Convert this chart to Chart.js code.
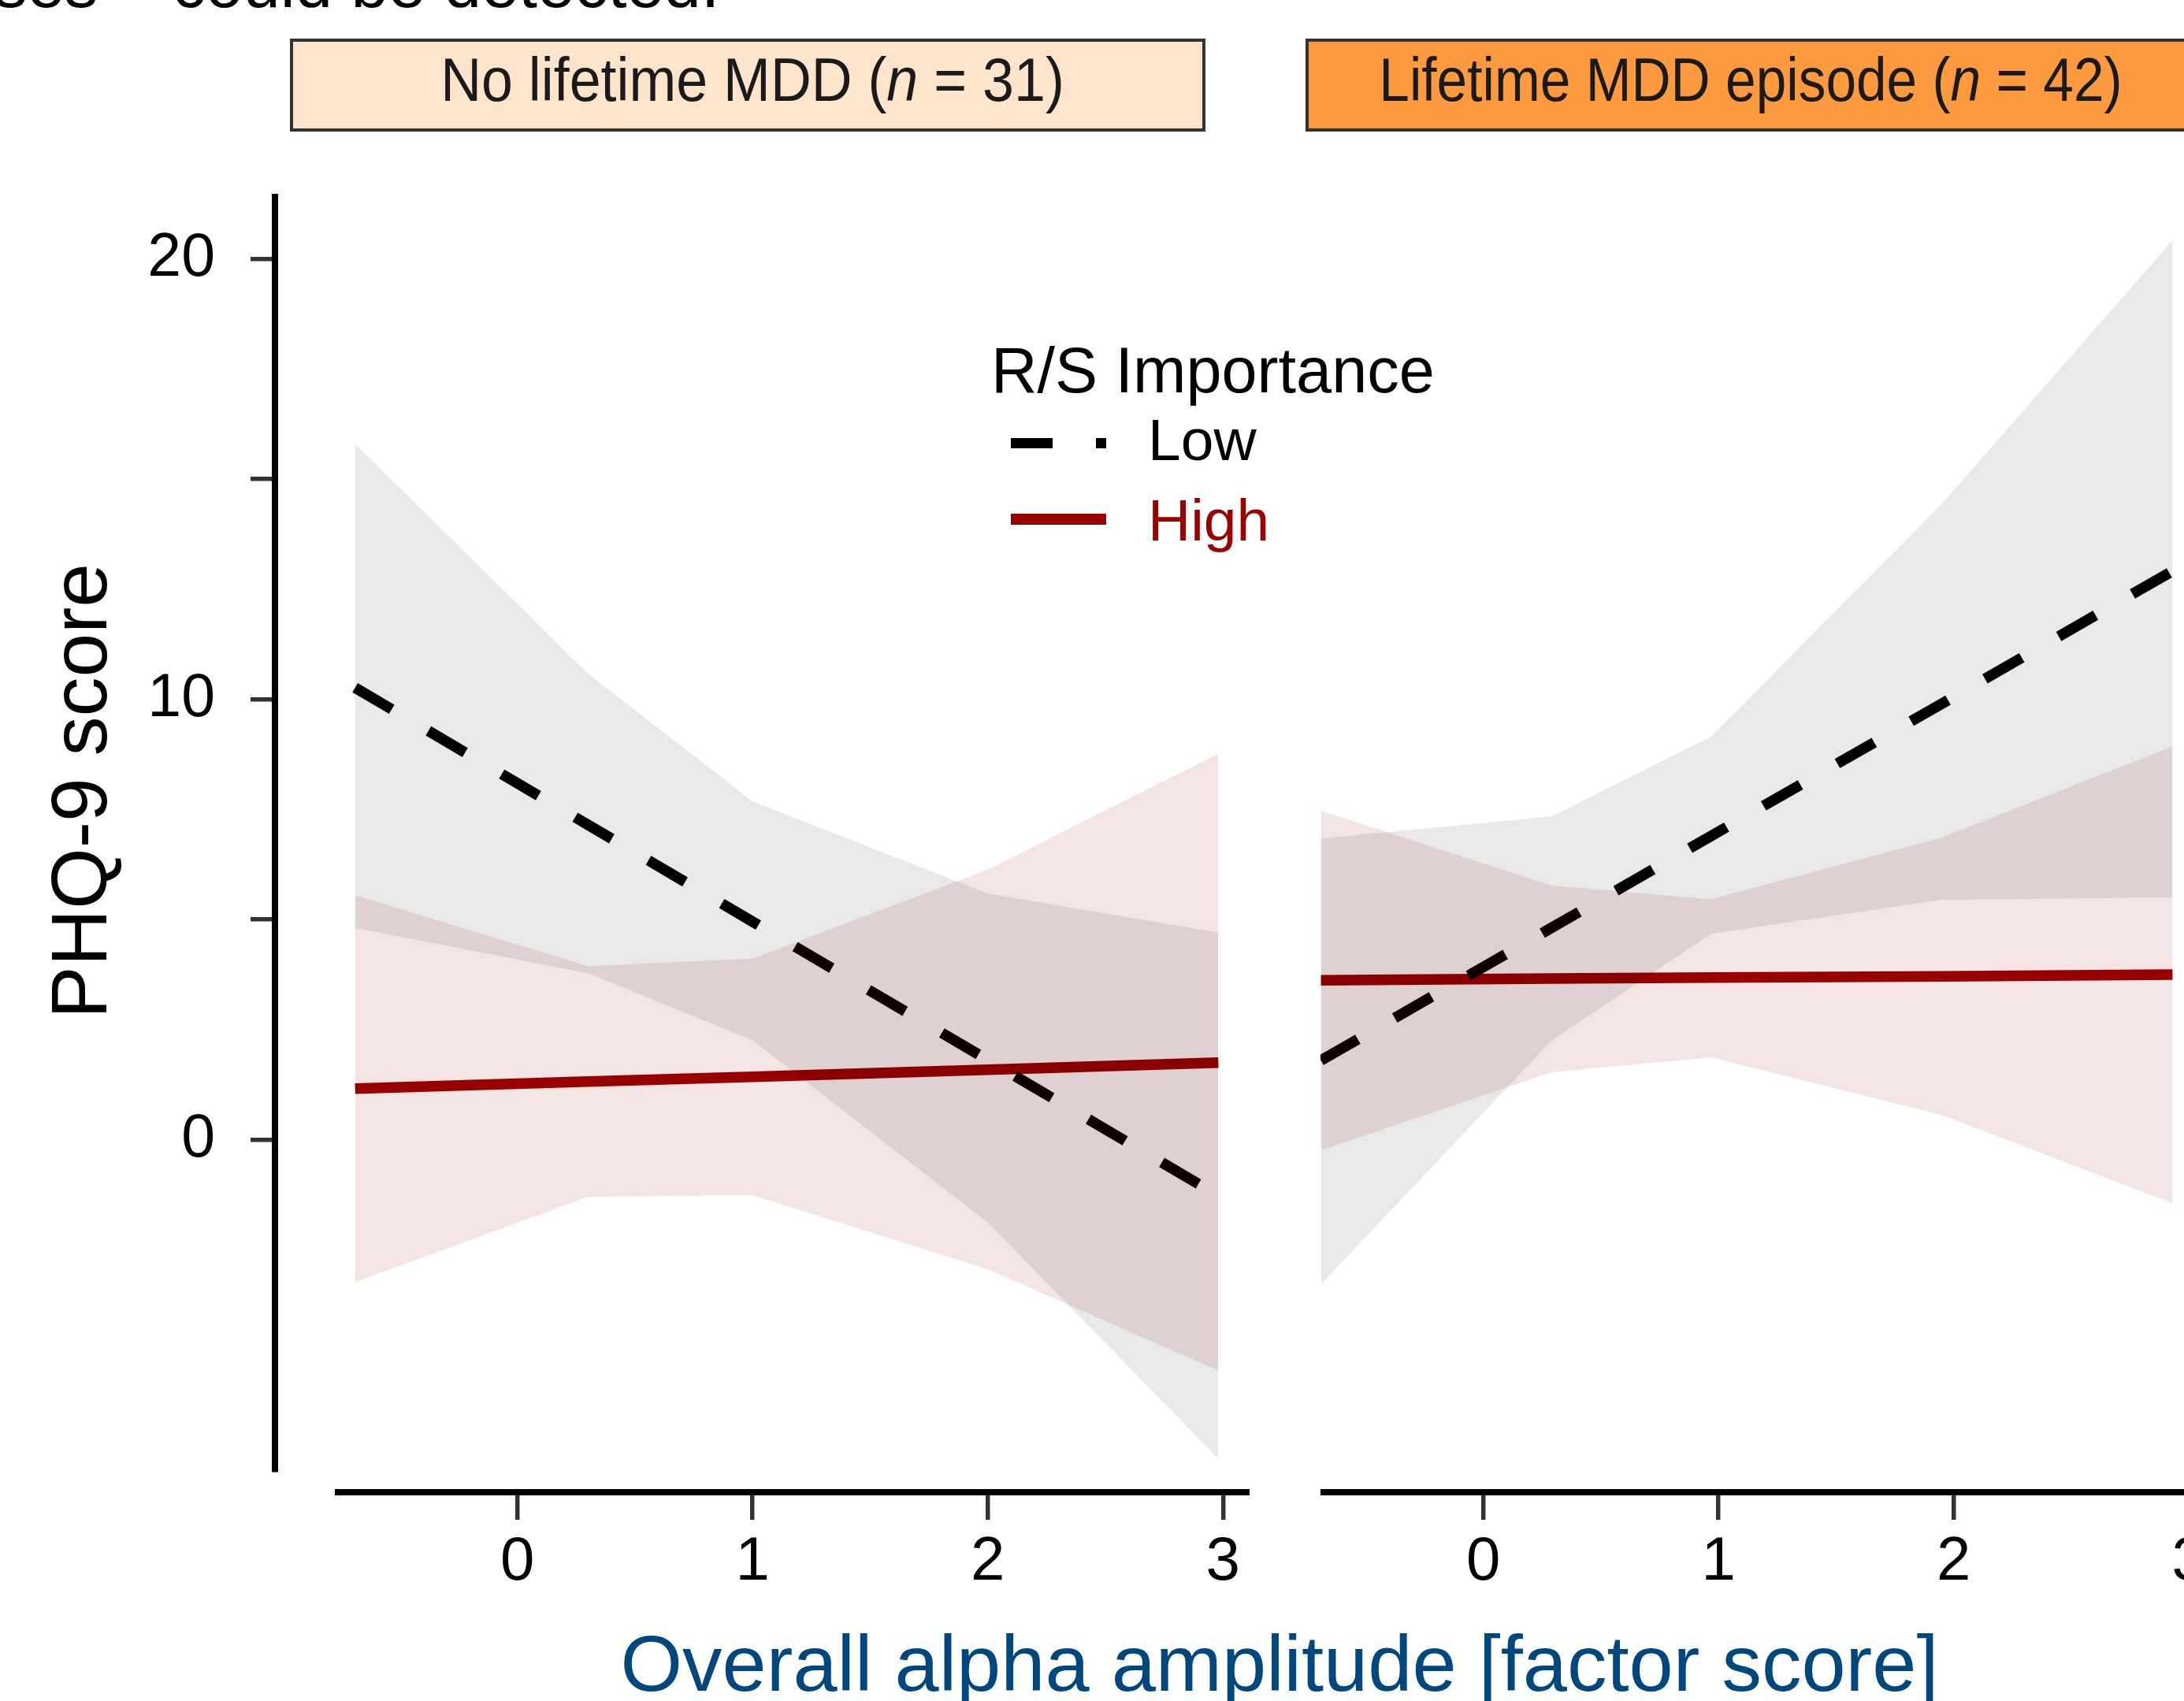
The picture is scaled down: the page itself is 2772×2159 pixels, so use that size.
<!DOCTYPE html>
<html>
<head>
<meta charset="utf-8">
<script src="https://cdn.jsdelivr.net/npm/chart.js@4.4.1/dist/chart.umd.min.js"></script>
<style>
  html, body { margin: 0; padding: 0; background: #fff; }
  body { width: 2772px; height: 2159px; position: relative; overflow: hidden;
         font-family: 'Liberation Sans', Arial, sans-serif; }
  canvas { position: absolute; top: 0; }
  .txt { position: absolute; white-space: nowrap; line-height: 1; }
  .strip { position: absolute; top: 49px; height: 118px; box-sizing: border-box; border: 4.5px solid #333; }
  .key { position: absolute; }
</style>
</head>
<body>
<div class="txt" style="left:-8px; top:-63px; font-size:85px; color:#000;">ses – could be detected.</div>

<div class="strip" style="left:368px; width:1162px; background:#fde4cb;"></div>
<div class="strip" style="left:1657px; width:1132px; background:#fd9a3f;"></div>
<div class="txt" style="left:-45px; width:2000px; text-align:center; top:62px; font-size:78px; color:#1a1a1a; transform:scaleX(0.92);">No lifetime MDD (<i>n</i> = 31)</div>
<div class="txt" style="left:1222px; width:2000px; text-align:center; top:62px; font-size:78px; color:#1a1a1a; transform:scaleX(0.89);">Lifetime MDD episode (<i>n</i> = 42)</div>

<canvas id="yAxis" width="360" height="2159" style="left:0px"></canvas>
<canvas id="leftPanel" width="1161" height="2159" style="left:425px"></canvas>
<canvas id="rightPanel" width="1136" height="2159" style="left:1676px"></canvas>

<div class="txt" style="left:-400px; top:954px; width:1000px; height:100px; line-height:100px; text-align:center; font-size:100px; color:#000; transform:rotate(-90deg);">PHQ-9 score</div>
<div class="txt" style="left:624px; width:2000px; text-align:center; top:2061px; font-size:101px; color:#00477e;">Overall alpha amplitude [factor score]</div>

<!-- legend -->
<div class="txt" style="left:1258px; top:430px; font-size:81px; color:#000;">R/S Importance</div>
<div class="key" style="left:1283px; top:556px; width:53px; height:13px; background:#000;"></div>
<div class="key" style="left:1391px; top:556px; width:13px; height:13px; background:#000;"></div>
<div class="txt" style="left:1457px; top:521px; font-size:75px; color:#000;">Low</div>
<div class="key" style="left:1283px; top:652px; width:121px; height:14px; background:#990000;"></div>
<div class="txt" style="left:1457px; top:623px; font-size:75px; color:#990000;">High</div>

<script>
'use strict'

// y range shared by every panel
const yMin = -7.5;
const yMax = 21.4;
const yTickValues = [0, 5, 10, 15, 20];

// No lifetime MDD panel
const xLeft = [-0.69, 0.30, 1.00, 2.00, 2.98];
const leftLow = [10.26, 7.15, 4.95, 1.81, -1.27];
const leftLowUpper = [15.80, 10.58, 7.68, 5.59, 4.70];
const leftLowLower = [4.81, 3.78, 2.26, -1.88, -7.24];
const leftHigh = [1.16, 1.32, 1.43, 1.59, 1.75];
const leftHighUpper = [5.55, 3.94, 4.11, 6.13, 8.76];
const leftHighLower = [-3.23, -1.30, -1.26, -2.94, -5.24];

// Lifetime MDD episode panel
const xRight = [-0.69, 0.29, 0.97, 1.95, 2.93];
const rightLow = [1.80, 4.81, 6.90, 9.90, 12.91];
const rightLowUpper = [6.84, 7.34, 9.16, 14.44, 20.41];
const rightLowLower = [-3.28, 2.25, 4.68, 5.45, 5.50];
const rightHigh = [3.62, 3.66, 3.68, 3.71, 3.75];
const rightHighUpper = [7.47, 5.77, 5.46, 6.86, 8.93];
const rightHighLower = [-0.24, 1.53, 1.87, 0.56, -1.44];

const gray = 'rgba(0, 0, 0, 0.088)';
const pink = 'rgba(153, 0, 0, 0.107)';
const red = '#990000';

Chart.defaults.font.family = "'Liberation Sans', Arial, sans-serif";

function pts(xs, ys) {
  return xs.map((x, i) => ({x: x, y: ys[i]}));
}

function band(label, xs, ys, color) {
  return {
    label: label,
    data: pts(xs, ys),
    fill: color ? '+1' : false,
    backgroundColor: color || 'transparent',
    borderColor: 'transparent',
    borderWidth: 0,
    pointRadius: 0,
  };
}

// ribbons come first so they are painted over the lines
function panelData(xs, low, lowUp, lowLo, high, highUp, highLo) {
  return {
    datasets: [
      band('Low upper', xs, lowUp, gray),
      band('Low lower', xs, lowLo, null),
      band('High upper', xs, highUp, pink),
      band('High lower', xs, highLo, null),
      {
        label: 'Low',
        data: pts(xs, low),
        borderColor: '#000',
        borderWidth: 13.5,
        borderDash: [54, 54],
        fill: false,
        pointRadius: 0,
      },
      {
        label: 'High',
        data: pts(xs, high),
        borderColor: red,
        borderWidth: 13.5,
        fill: false,
        pointRadius: 0,
      },
    ]
  };
}

function panelOptions(xMin, xMax) {
  return {
    responsive: false,
    animation: false,
    layout: { padding: { top: 250, bottom: 293, left: 0, right: 0 } },
    elements: { line: { tension: 0 } },
    plugins: {
      legend: { display: false },
      tooltip: { enabled: false },
    },
    scales: {
      y: { display: false, min: yMin, max: yMax },
      x: {
        type: 'linear',
        position: { y: -8.0 },
        min: xMin,
        max: xMax,
        border: { display: true, color: '#000', width: 8 },
        grid: { drawOnChartArea: false, drawTicks: true, tickLength: 31, color: '#333', lineWidth: 5.5 },
        ticks: {
          stepSize: 1,
          includeBounds: false,
          autoSkip: false,
          maxRotation: 0,
          padding: 12,
          color: '#000',
          font: { size: 78 },
        },
      },
    },
  };
}

// y axis drawn on its own so it can sit apart from the x axes
new Chart(document.getElementById('yAxis'), {
  type: 'line',
  data: { datasets: [] },
  options: {
    responsive: false,
    animation: false,
    layout: { padding: { top: 250, bottom: 293, left: 0, right: 0 } },
    plugins: { legend: { display: false }, tooltip: { enabled: false } },
    scales: {
      x: { type: 'linear', display: false, min: 0, max: 1 },
      y: {
        position: 'left',
        min: yMin,
        max: yMax,
        afterFit: function(scale) { scale.width = 349; },
        afterBuildTicks: function(scale) {
          scale.ticks = yTickValues.map(v => ({ value: v }));
        },
        border: { display: true, color: '#000', width: 8 },
        grid: { drawOnChartArea: false, tickLength: 31, color: '#333', lineWidth: 5.5 },
        ticks: {
          padding: 45,
          color: '#000',
          font: { size: 77 },
          callback: function(value) { return value % 10 === 0 ? String(value) : ''; }
        },
      },
    },
  },
});

new Chart(document.getElementById('leftPanel'), {
  type: 'line',
  data: panelData(xLeft, leftLow, leftLowUpper, leftLowLower, leftHigh, leftHighUpper, leftHighLower),
  options: panelOptions(-0.776, 3.107),
});

new Chart(document.getElementById('rightPanel'), {
  type: 'line',
  data: panelData(xRight, rightLow, rightLowUpper, rightLowLower, rightHigh, rightHighUpper, rightHighLower),
  options: panelOptions(-0.692, 3.107),
});
</script>
</body>
</html>
